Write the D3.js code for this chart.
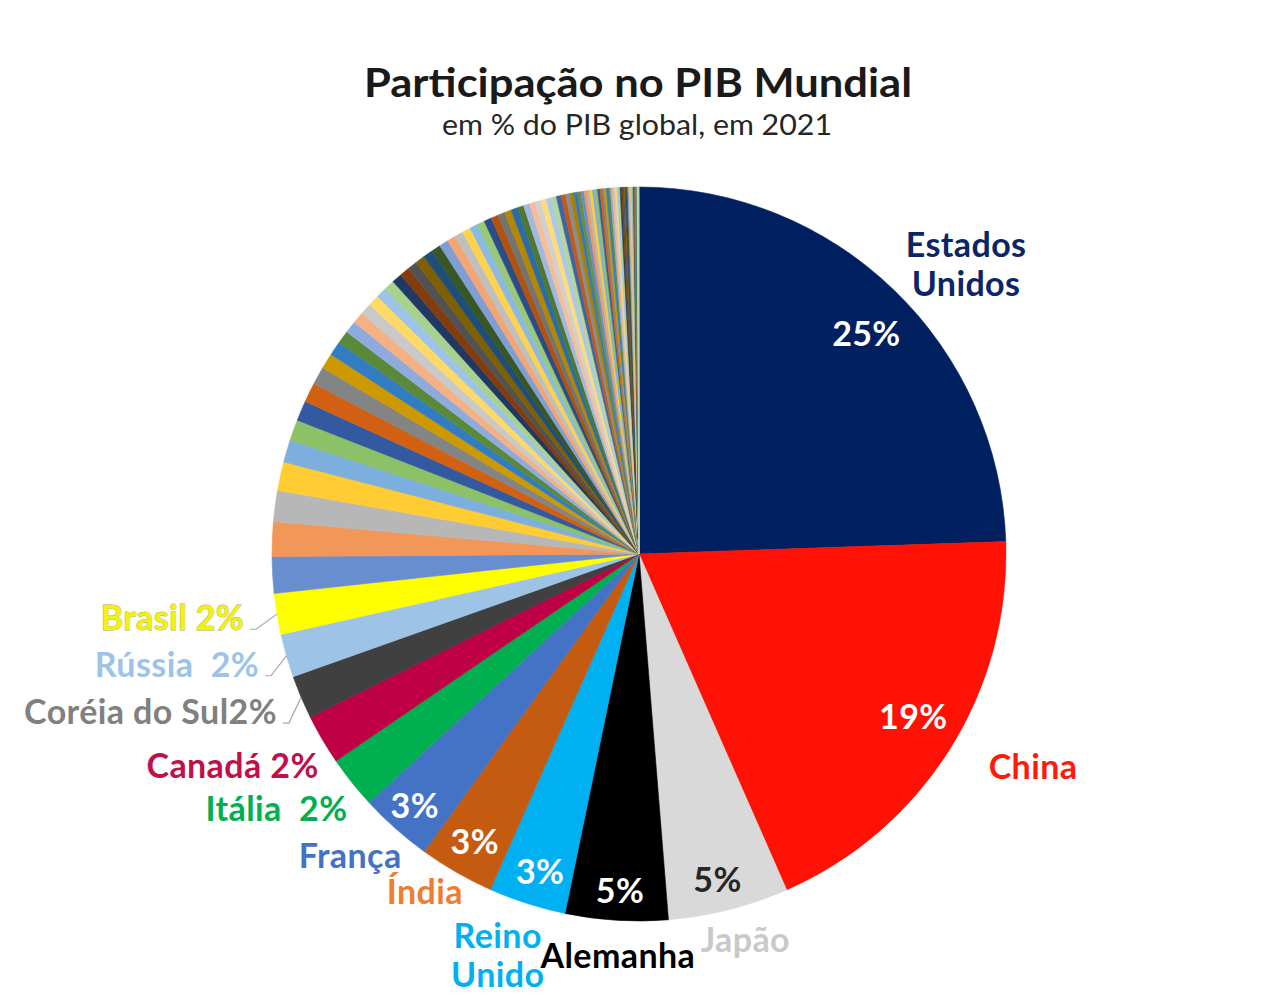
<!DOCTYPE html>
<html>
<head>
<meta charset="utf-8">
<script src="https://cdn.jsdelivr.net/npm/d3@7/dist/d3.min.js"></script>
<style>
  html, body { margin: 0; padding: 0; background: #fff; }
  svg { display: block; font-family: Lato, "Open Sans", sans-serif; }
</style>
</head>
<body>
<svg id="chart" width="1280" height="1001"></svg>
<script>
// ---- DATA ----
const countries = ["Estados Unidos","China","Japão","Alemanha","Reino Unido","Índia","França","Itália","Canadá","Coréia do Sul","Rússia","Brasil"];
const countryShares = [24.4, 18.9, 5.3, 4.5, 3.4, 3.3, 3.2, 2.3, 2.2, 1.9, 1.9, 1.8];
const shownPct = ["25%","19%","5%","5%","3%","3%","3%","2%","2%","2%","2%","2%"];
const countryColors = ["#002060","#FF1205","#D9D9D9","#000000","#00B0F0","#C55A11","#4472C4","#00B050","#C00045","#404040","#9DC3E6","#FFFF00"];
const labelColors = ["#0B2566","#FF1A0A","#C9C9C9","#000000","#00B0F0","#ED7D31","#4472C4","#00B050","#C0104A","#808080","#9DC3E6","#F2F20A"];

// remaining (unlabelled) countries, in chart order
const otherShares = [
  1.60, 1.52, 1.36, 1.26, 0.98, 0.92, 0.88, 0.86, 0.78, 0.68, 0.62, 0.57, 0.53, 0.51, 0.50, 0.49, 0.47, 0.46,
  0.44, 0.43, 0.43, 0.42, 0.42, 0.41, 0.40,
  0.38, 0.37, 0.36, 0.35, 0.34, 0.33, 0.32, 0.31, 0.30, 0.29, 0.28, 0.27, 0.26, 0.25, 0.24, 0.23, 0.22, 0.21, 0.20, 0.19,
  0.17, 0.16, 0.15, 0.14, 0.13, 0.12, 0.12, 0.11, 0.11, 0.10, 0.10, 0.09, 0.09, 0.09, 0.08, 0.08, 0.08, 0.07, 0.07, 0.07,
  0.06, 0.06, 0.06, 0.06, 0.05, 0.05, 0.05, 0.05, 0.04, 0.04, 0.04, 0.04, 0.03, 0.03, 0.03, 0.03, 0.03, 0.02, 0.02, 0.02,
  0.02, 0.02, 0.01, 0.01, 0.01
];
const otherPalette = [
  "#698ED0","#F1975A","#B7B7B7","#FFCD33","#7CAFDD","#8CC168",
  "#335AA1","#D26012","#848484","#CC9A00","#327DC2","#5A8A39",
  "#8FAADC","#F4B183","#C9C9C9","#FFD966","#9DC3E6","#A9D18E",
  "#203864","#843C0C","#525252","#7F6000","#1F4E79","#385723",
  "#7F9ED6","#F3A673","#BFBFBF","#FFD24D","#8ABAE1","#98C878",
  "#2B4C88","#B3520F","#737373","#B38700","#2B6BA7","#4E7831",
  "#A2B8E0","#F6BE98","#D0D0D0","#FFDC7A","#A8C9E8","#B3D69A",
  "#3F63A8","#C25A18","#8C8C8C","#A88000","#3A78B5","#66913F"
];

const titleText = "Participação no PIB Mundial";
const subtitleText = "em % do PIB global, em 2021";

// ---- LAYOUT ----
const W = 1280, H = 1001;
const cx = 639, cy = 554, R = 367;

// label placement relative to slice mid-angle: angle offset (deg) and radius factor
const valueLabelPlace = [[3.5,0.84],[0.3,0.886],[1.1,0.946],[-0.4,0.952],[-1.1,0.939],[-1.2,0.933],[-1.2,0.943]];
const nameLabelPlace = [[5.7,1.168],[-2.4,1.237],[-0.8,1.122],[-0.6,1.129],[1.1,1.19],[1.6,1.118],[1.0,1.163]];
const sideLabelPlace = [[-4.0,1.077],[-4.6,1.065],[-2.2,1.09],[-1.8,1.088],[-1.5,1.096]];

const data = countries.map((c,i)=>({name:c, value:countryShares[i], color:countryColors[i], idx:i}))
  .concat(otherShares.map((v,i)=>({name:"outro"+i, value:v, color:otherPalette[i % otherPalette.length], idx:-1})));

const svg = d3.select("#chart");

svg.append("text").attr("x", 638).attr("y", 97).attr("text-anchor","middle")
  .attr("font-size", 41).attr("font-weight", 700).attr("fill","#1a1a1a")
  .attr("textLength", 548).attr("lengthAdjust","spacingAndGlyphs").text(titleText);
svg.append("text").attr("x", 637).attr("y", 135).attr("text-anchor","middle")
  .attr("font-size", 28).attr("font-weight", 400).attr("fill","#262626")
  .attr("textLength", 390).attr("lengthAdjust","spacingAndGlyphs").text(subtitleText);

const pie = d3.pie().sort(null).value(d=>d.value).startAngle(0).endAngle(2*Math.PI);
const arcs = pie(data);
const arc = d3.arc().innerRadius(0).outerRadius(R);

const g = svg.append("g").attr("transform", `translate(${cx},${cy})`);
g.selectAll("path").data(arcs).join("path")
  .attr("d", arc)
  .attr("fill", d=>d.data.color)
  .attr("stroke", d=>d.data.color)
  .attr("stroke-width", 0.6)
  .attr("stroke-linejoin","round");

function polar(deg, rho){
  const a = deg*Math.PI/180;
  return [cx + rho*Math.sin(a), cy - rho*Math.cos(a)];
}
const midDeg = d => ((d.startAngle + d.endAngle)/2)*180/Math.PI;

const fs = 34, ls = 0.4;
// inside value labels (first 7)
arcs.slice(0,7).forEach((d,i)=>{
  const [dt,k] = valueLabelPlace[i];
  const [x,y] = polar(midDeg(d)+dt, R*k);
  svg.append("text").attr("x",x).attr("y",y).attr("text-anchor","middle")
    .attr("font-size",fs).attr("font-weight",700).attr("letter-spacing",ls)
    .attr("fill", i===2 ? "#262626" : "#ffffff").text(shownPct[i]);
});
// outside name labels (first 7)
arcs.slice(0,7).forEach((d,i)=>{
  const [dt,k] = nameLabelPlace[i];
  const [x,y] = polar(midDeg(d)+dt, R*k);
  const words = countries[i].split(" ");
  const t = svg.append("text").attr("text-anchor","middle")
    .attr("font-size",fs).attr("font-weight",700).attr("letter-spacing",ls).attr("fill",labelColors[i]);
  if (words.length === 2 && (i===0 || i===4)) {
    t.append("tspan").attr("x",x).attr("y",y-19.5).text(words[0]);
    t.append("tspan").attr("x",x).attr("y",y+19.5).text(words[1]);
  } else {
    t.attr("x",x).attr("y",y).text(countries[i]);
  }
});
// side labels with value (7..11)
const sideText = ["Itália\u00a0 2%","Canadá 2%","Coréia do Sul2%","Rússia\u00a0 2%","Brasil 2%"];
arcs.slice(7,12).forEach((d,j)=>{
  const i = j+7;
  const [dt,k] = sideLabelPlace[j];
  const [x,y] = polar(midDeg(d)+dt, R*k);
  const t = svg.append("text").attr("x",x).attr("y",y).attr("text-anchor","end")
    .attr("font-size",fs).attr("font-weight",700).attr("letter-spacing",ls).attr("fill",labelColors[i]).text(sideText[j]);
  if (i===11) t.attr("stroke","#A8A860").attr("stroke-width",0.8).attr("paint-order","stroke");
  if (i>=9) {
    const rim = polar(midDeg(d), R);
    const p0 = [x+6, y-1], p1 = [x+12, y-1];
    svg.append("path").attr("d", d3.line()([p0,p1,rim]))
      .attr("fill","none").attr("stroke","#A6A6A6").attr("stroke-width",1.2);
  }
});
</script>
</body>
</html>
